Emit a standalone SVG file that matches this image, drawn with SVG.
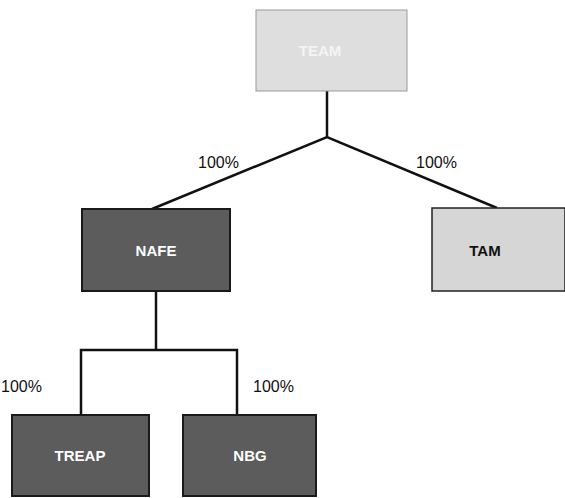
<svg xmlns="http://www.w3.org/2000/svg" width="565" height="498" viewBox="0 0 565 498">
<style>
.dark{fill:#5c5c5c;stroke:#1a1a1a;stroke-width:2}
.light{fill:#d6d6d6;stroke:#222;stroke-width:1.5}
.top{fill:#dedede;stroke:#9a9a9a;stroke-width:1}
.lbl{font-family:"Liberation Sans",Arial,sans-serif;font-weight:bold;font-size:15px;text-anchor:middle}
.pct{font-family:"Liberation Sans",Arial,sans-serif;font-size:16px;fill:#111}
.ln{stroke:#111;stroke-width:2.5;fill:none}
</style>
<rect width="565" height="498" fill="#fff"/>
<g id="connectors">
<polyline class="ln" points="327,91 327,137"/>
<polyline class="ln" points="152,209 327,137 497,208"/>
<polyline class="ln" points="156,291 156,350"/>
<polyline class="ln" points="81,415 81,350 237,350 237,415"/>
<text class="pct" x="198" y="168">100%</text>
<text class="pct" x="416" y="168">100%</text>
<text class="pct" x="1" y="392">100%</text>
<text class="pct" x="253" y="392">100%</text>
</g>
<g id="team">
<rect class="top" x="256" y="10" width="151" height="81"/>
<text class="lbl" x="320" y="56" fill="#f4f4f4">TEAM</text>
</g>
<g id="nafe">
<rect class="dark" x="82" y="209" width="148" height="82"/>
<text class="lbl" x="156" y="256" fill="#fff">NAFE</text>
</g>
<g id="tam">
<rect class="light" x="432" y="208" width="133" height="83"/>
<text class="lbl" x="485" y="256" fill="#111">TAM</text>
</g>
<g id="treap">
<rect class="dark" x="12" y="415" width="137" height="81"/>
<text class="lbl" x="80" y="461" fill="#fff">TREAP</text>
</g>
<g id="nbg">
<rect class="dark" x="183" y="415" width="133" height="81"/>
<text class="lbl" x="250" y="461" fill="#fff">NBG</text>
</g>
</svg>
